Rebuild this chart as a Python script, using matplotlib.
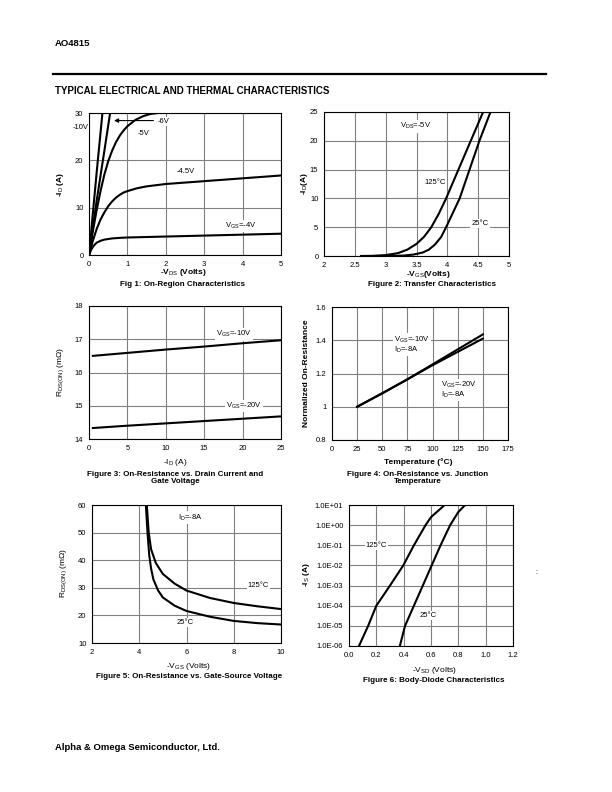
import numpy as np
import matplotlib
matplotlib.use("Agg")
import matplotlib.pyplot as plt

plt.rcParams['font.family'] = ['Liberation Sans', 'DejaVu Sans']
plt.rcParams['mathtext.fontset'] = 'custom'
plt.rcParams['mathtext.rm'] = 'Liberation Sans'
plt.rcParams['mathtext.bf'] = 'Liberation Sans:bold'
plt.rcParams['mathtext.it'] = 'Liberation Sans:italic'

W, H = 612, 792

# Fig 1: On-region characteristics (-VDS, -ID)
vds_10 = [0, 0.2, 0.35]
id_10 = [0, 17.5, 30]
vds_6 = [0, 0.2, 0.4, 0.55]
id_6 = [0, 11.5, 22, 30]
vds_5 = [0, 0.1, 0.2, 0.3, 0.4, 0.5, 0.6, 0.7, 0.8, 0.9, 1.0, 1.2, 1.4, 1.6, 1.8]
id_5 = [0, 5, 9.5, 13.5, 17, 19.8, 22, 23.8, 25.2, 26.3, 27.2, 28.5, 29.3, 29.8, 30]
vds_45 = [0, 0.05, 0.1, 0.2, 0.3, 0.4, 0.5, 0.6, 0.7, 0.8, 0.9, 1.0, 1.25, 1.5, 2, 2.5, 3, 3.5, 4, 4.5, 5]
id_45 = [0, 1.5, 3, 5.5, 7.5, 9, 10.3, 11.3, 12.1, 12.7, 13.2, 13.5, 14.1, 14.5, 15, 15.3, 15.6, 15.9, 16.2, 16.5, 16.8]
vds_4 = [0, 0.05, 0.1, 0.15, 0.2, 0.3, 0.4, 0.6, 0.8, 1, 1.5, 2, 3, 4, 5]
id_4 = [0, 1.0, 1.7, 2.2, 2.6, 3.0, 3.25, 3.5, 3.62, 3.7, 3.8, 3.9, 4.1, 4.3, 4.5]

# Fig 2: Transfer characteristics
vgs_125 = [2.6, 2.8, 3.0, 3.2, 3.35, 3.5, 3.62, 3.74, 3.86, 3.98, 4.18, 4.38, 4.58]
id_125 = [0, 0.03, 0.15, 0.5, 1.1, 2.1, 3.3, 5, 7.3, 10, 15, 20, 25]
vgs_25 = [2.8, 3.1, 3.3, 3.45, 3.6, 3.7, 3.8, 3.9, 3.98, 4.09, 4.2, 4.36, 4.52, 4.70]
id_25 = [0, 0.02, 0.08, 0.25, 0.6, 1.1, 2, 3.3, 5, 7.5, 10, 15, 20, 25]

# Fig 3: RDS(ON) vs drain current
id_f3 = [0.5, 5, 10, 15, 20, 25]
rds_10v = [16.5, 16.59, 16.69, 16.78, 16.88, 16.97]
rds_20v = [14.33, 14.4, 14.47, 14.54, 14.61, 14.68]

# Fig 4: normalized RDS(ON) vs junction temperature
temp = [25, 50, 75, 100, 125, 150]
norm_10v = [1.0, 1.08, 1.165, 1.255, 1.345, 1.435]
norm_20v = [1.0, 1.082, 1.165, 1.25, 1.33, 1.41]

# Fig 5: RDS(ON) vs gate-source voltage
vgs5_25 = [4.28, 4.35, 4.42, 4.5, 4.6, 4.8, 5.0, 5.5, 6, 7, 8, 9, 10]
rds5_25 = [60, 50, 42, 37, 33, 29, 26.5, 23.5, 21.6, 19.5, 18, 17.2, 16.7]
vgs5_125 = [4.32, 4.4, 4.5, 4.7, 5.0, 5.5, 6, 7, 8, 9, 10]
rds5_125 = [60, 50, 44, 39, 35, 31.5, 29, 26.3, 24.5, 23.3, 22.3]

# Fig 6: body diode
vsd_125 = [0.073, 0.14, 0.20, 0.30, 0.397, 0.475, 0.56, 0.60, 0.65, 0.70]
is_125 = [1e-6, 1e-5, 1e-4, 1e-3, 1e-2, 1e-1, 1e0, 2.5, 5, 10]
vsd_25 = [0.372, 0.41, 0.475, 0.54, 0.605, 0.67, 0.74, 0.80, 0.85]
is_25 = [1e-6, 1e-5, 1e-4, 1e-3, 1e-2, 1e-1, 1e0, 4.5, 10]

f2_xticks = ["2", "2.5", "3", "3.5", "4", "4.5", "5"]
f4_yticks = ["0.8", "1", "1.2", "1.4", "1.6"]
f6_yticks = ["1.0E-06", "1.0E-05", "1.0E-04", "1.0E-03", "1.0E-02", "1.0E-01", "1.0E+00", "1.0E+01"]
f6_xticks = ["0.0", "0.2", "0.4", "0.6", "0.8", "1.0", "1.2"]

TICK = 5.5
ANN = 5.5
LAB = 6
CAP = 5.8
LW = 1.5
BOX = dict(facecolor='white', edgecolor='none', pad=0.8)


def make_axes(fig, left, top, right, bottom):
    ax = fig.add_axes([left / W, 1 - bottom / H, (right - left) / W, (bottom - top) / H])
    ax.grid(True, color='#808080', lw=0.8)
    ax.set_axisbelow(True)
    for s in ax.spines.values():
        s.set_color('black')
        s.set_linewidth(0.8)
    ax.tick_params(length=0, labelsize=TICK, pad=4)
    return ax


def ftext(fig, x, y, s, **kw):
    fig.text(x / W, 1 - y / H, s, ha='center', va='center', **kw)


def note(ax, x, y, s, ha='left'):
    ax.text(x, y, s, fontsize=ANN, ha=ha, va='center', bbox=BOX, zorder=5)


fig = plt.figure(figsize=(W / 100, H / 100), dpi=100)

# header / footer
fig.text(55 / W, 1 - 43 / H, "AO4815", fontsize=6.8, fontweight='bold', va='center')
fig.add_artist(plt.Line2D([53 / W, 546 / W], [1 - 74 / H, 1 - 74 / H], color='black', lw=1.6))
fig.text(55 / W, 1 - 91 / H, "TYPICAL ELECTRICAL AND THERMAL CHARACTERISTICS",
         fontsize=7, fontweight='bold', va='center')
fig.text(55 / W, 1 - 747 / H, "Alpha & Omega Semiconductor, Ltd.",
         fontsize=6.8, fontweight='bold', va='center')

# Fig 1
ax = make_axes(fig, 89, 113, 281, 255)
for x, y in [(vds_10, id_10), (vds_6, id_6), (vds_5, id_5), (vds_45, id_45), (vds_4, id_4)]:
    ax.plot(x, y, color='black', lw=LW)
ax.set_xlim(0, 5)
ax.set_ylim(0, 30)
ax.set_xticks(range(6))
ax.set_yticks([0, 10, 20, 30])
ax.annotate('', xy=(0.58, 28.4), xytext=(1.75, 28.4),
            arrowprops=dict(arrowstyle='-|>', color='black', lw=0.8, mutation_scale=6))
note(ax, 1.78, 28.2, "-6V")
t = ax.text(-0.02, 26.9, "-10V", fontsize=ANN, ha='right', va='center', bbox=BOX, zorder=5)
t.set_clip_on(False)
note(ax, 1.28, 25.7, "-5V")
note(ax, 2.28, 17.7, "-4.5V")
note(ax, 3.55, 6.1, r"V$_{\rm GS}$=-4V")
ftext(fig, 183, 273, r"-V$_{\rm DS}$ (Volts)", fontsize=LAB, fontweight='bold')
ftext(fig, 183, 285, "Fig 1: On-Region Characteristics", fontsize=CAP, fontweight='bold')
fig.text(60 / W, 1 - 184 / H, r"-I$_{\rm D}$ (A)", fontsize=LAB, fontweight='bold',
         rotation=90, ha='center', va='center')

# Fig 2
ax = make_axes(fig, 324, 112, 509, 256)
ax.plot(vgs_125, id_125, color='black', lw=LW)
ax.plot(vgs_25, id_25, color='black', lw=LW)
ax.set_xlim(2, 5)
ax.set_ylim(0, 25)
ax.set_xticks(np.arange(2, 5.01, 0.5))
ax.set_xticklabels(f2_xticks)
ax.set_yticks(range(0, 26, 5))
note(ax, 3.23, 22.5, r"V$_{\rm DS}$=-5V")
note(ax, 3.63, 12.7, "125°C")
note(ax, 4.39, 5.7, "25°C")
ftext(fig, 428, 274, r"-V$_{\rm GS}$(Volts)", fontsize=LAB, fontweight='bold')
ftext(fig, 432, 285, "Figure 2: Transfer Characteristics", fontsize=CAP, fontweight='bold')
fig.text(305 / W, 1 - 184 / H, r"-I$_{\rm D}$(A)", fontsize=LAB, fontweight='bold',
         rotation=90, ha='center', va='center')

# Fig 3
ax = make_axes(fig, 89, 306, 281, 439)
ax.plot(id_f3, rds_10v, color='black', lw=LW)
ax.plot(id_f3, rds_20v, color='black', lw=LW)
ax.set_xlim(0, 25)
ax.set_ylim(14, 18)
ax.set_xticks(range(0, 26, 5))
ax.set_yticks(range(14, 19))
note(ax, 16.6, 17.15, r"V$_{\rm GS}$=-10V")
note(ax, 17.9, 15.0, r"V$_{\rm GS}$=-20V")
ftext(fig, 175, 463, r"-I$_{\rm D}$ (A)", fontsize=LAB)
ftext(fig, 175, 478, "Figure 3: On-Resistance vs. Drain Current and\nGate Voltage",
      fontsize=CAP, fontweight='bold', linespacing=1.1)
fig.text(61 / W, 1 - 372 / H, r"R$_{\rm DS(ON)}$ (m$\Omega$)", fontsize=LAB,
         rotation=90, ha='center', va='center')

# Fig 4
ax = make_axes(fig, 332, 307, 508, 440)
ax.plot(temp, norm_10v, color='black', lw=LW)
ax.plot(temp, norm_20v, color='black', lw=LW)
ax.set_xlim(0, 175)
ax.set_ylim(0.8, 1.6)
ax.set_xticks(range(0, 176, 25))
ax.set_yticks([0.8, 1.0, 1.2, 1.4, 1.6])
ax.set_yticklabels(f4_yticks)
note(ax, 62, 1.404, r"V$_{\rm GS}$=-10V")
note(ax, 62, 1.344, r"I$_{\rm D}$=-8A")
note(ax, 108.7, 1.13, r"V$_{\rm GS}$=-20V")
note(ax, 108.7, 1.07, r"I$_{\rm D}$=-8A")
ftext(fig, 418, 462, "Temperature (°C)", fontsize=LAB, fontweight='bold')
ftext(fig, 418, 478, "Figure 4: On-Resistance vs. Junction\nTemperature",
      fontsize=CAP, fontweight='bold', linespacing=1.1)
fig.text(306 / W, 1 - 373 / H, "Normalized On-Resistance", fontsize=LAB, fontweight='bold',
         rotation=90, ha='center', va='center')

# Fig 5
ax = make_axes(fig, 92, 505, 281, 643)
ax.plot(vgs5_25, rds5_25, color='black', lw=LW)
ax.plot(vgs5_125, rds5_125, color='black', lw=LW)
ax.set_xlim(2, 10)
ax.set_ylim(10, 60)
ax.set_xticks(range(2, 11, 2))
ax.set_yticks(range(10, 61, 10))
note(ax, 6.15, 55.4, r"I$_{\rm D}$=-8A", ha='center')
note(ax, 9.05, 31, "125°C", ha='center')
note(ax, 5.94, 17.3, "25°C", ha='center')
ftext(fig, 189, 666, r"-V$_{\rm GS}$ (Volts)", fontsize=LAB)
ftext(fig, 189, 677, "Figure 5: On-Resistance vs. Gate-Source Voltage",
      fontsize=CAP, fontweight='bold')
fig.text(64 / W, 1 - 573 / H, r"R$_{\rm DS(ON)}$ (m$\Omega$)", fontsize=LAB,
         rotation=90, ha='center', va='center')

# Fig 6
ax = make_axes(fig, 349, 505, 513, 646)
ax.semilogy(vsd_125, is_125, color='black', lw=LW)
ax.semilogy(vsd_25, is_25, color='black', lw=LW)
ax.set_xlim(0, 1.2)
ax.set_ylim(1e-6, 1e1)
ax.set_xticks(np.arange(0, 1.21, 0.2))
ax.set_xticklabels(f6_xticks)
ax.set_yticks([10.0 ** k for k in range(-6, 2)])
ax.set_yticklabels(f6_yticks)
ax.minorticks_off()
note(ax, 0.20, 1e-1, "125°C", ha='center')
note(ax, 0.58, 3.3e-5, "25°C", ha='center')
ftext(fig, 434, 670, r"-V$_{\rm SD}$ (Volts)", fontsize=LAB)
ftext(fig, 434, 681, "Figure 6: Body-Diode Characteristics",
      fontsize=CAP, fontweight='bold')
fig.text(306 / W, 1 - 575 / H, r"-I$_{\rm S}$ (A)", fontsize=LAB, fontweight='bold',
         rotation=90, ha='center', va='center')
fig.text(536 / W, 1 - 572 / H, ":", fontsize=5, ha='center', va='center')

fig.savefig("out.png", dpi=100)
